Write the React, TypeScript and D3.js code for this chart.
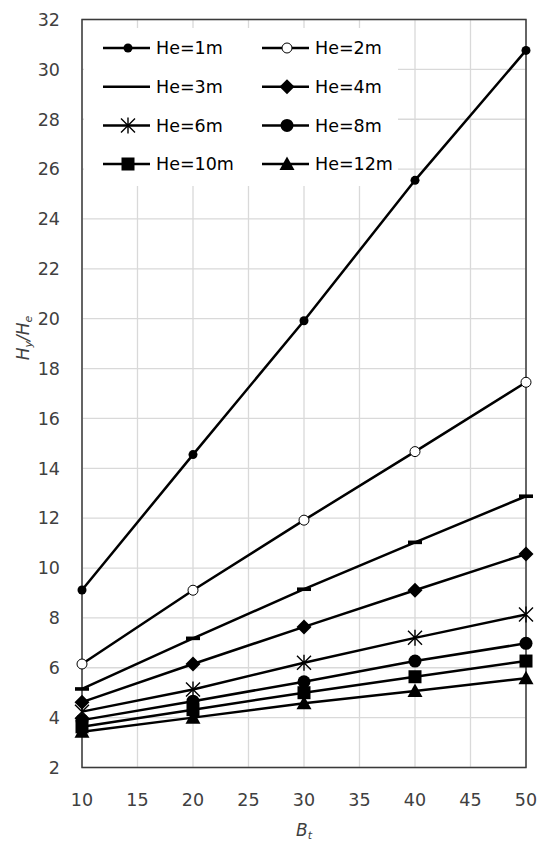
import React from "react";
import * as d3 from "d3";

const xValues = [10, 20, 30, 40, 50];
const seriesNames = ["He=1m", "He=2m", "He=3m", "He=4m", "He=6m", "He=8m", "He=10m", "He=12m"];
const he1 = [9.12, 14.55, 19.92, 25.55, 30.76];
const he2 = [6.15, 9.11, 11.92, 14.67, 17.45];
const he3 = [5.15, 7.18, 9.15, 11.03, 12.88];
const he4 = [4.62, 6.15, 7.64, 9.11, 10.56];
const he6 = [4.24, 5.13, 6.2, 7.2, 8.14];
const he8 = [3.9, 4.66, 5.44, 6.27, 6.98];
const he10 = [3.63, 4.32, 5.0, 5.64, 6.27];
const he12 = [3.43, 4.0, 4.58, 5.07, 5.58];
const seriesValues = [he1, he2, he3, he4, he6, he8, he10, he12];
const markers = ["smallDot", "openCircle", "dash", "diamond", "star", "bigDot", "square", "triangle"];
const xTicks = [10, 15, 20, 25, 30, 35, 40, 45, 50];
const yTicks = [2, 4, 6, 8, 10, 12, 14, 16, 18, 20, 22, 24, 26, 28, 30, 32];

const W = 538;
const H = 843;
const left = 82;
const right = 526;
const top = 19.5;
const bottom = 767.5;
const FONT = "DejaVu Sans, sans-serif";

const x = d3.scaleLinear().domain([10, 50]).range([left, right]);
const y = d3.scaleLinear().domain([2, 32]).range([bottom, top]);

function Marker({ kind, cx, cy }: { kind: string; cx: number; cy: number }) {
  switch (kind) {
    case "smallDot":
      return <circle cx={cx} cy={cy} r={4.5} fill="#000" />;
    case "openCircle":
      return <circle cx={cx} cy={cy} r={5} fill="#fff" stroke="#000" strokeWidth={1} />;
    case "dash":
      return <rect x={cx - 7} y={cy - 1.8} width={14} height={3.6} fill="#000" />;
    case "diamond":
      return <path d={`M${cx},${cy - 7.5}L${cx + 7.5},${cy}L${cx},${cy + 7.5}L${cx - 7.5},${cy}Z`} fill="#000" />;
    case "star": {
      const s = 7;
      return (
        <path
          d={`M${cx - s},${cy - s}L${cx + s},${cy + s}M${cx - s},${cy + s}L${cx + s},${cy - s}M${cx},${cy - s - 1}L${cx},${cy + s + 1}`}
          stroke="#000"
          strokeWidth={1.4}
          fill="none"
        />
      );
    }
    case "bigDot":
      return <circle cx={cx} cy={cy} r={6.5} fill="#000" />;
    case "square":
      return <rect x={cx - 6.5} y={cy - 6.5} width={13} height={13} fill="#000" />;
    case "triangle":
      return <path d={`M${cx},${cy - 7.5}L${cx + 7.5},${cy + 6}L${cx - 7.5},${cy + 6}Z`} fill="#000" />;
    default:
      return null;
  }
}

export default function App() {
  const line = d3
    .line<number>()
    .x((_, i) => x(xValues[i]))
    .y((d) => y(d));

  const legendRows = [48, 86.7, 125.4, 164];
  const legendCols = [103, 262];

  return (
    <svg width={W} height={H} style={{ position: "absolute", left: 0, top: 0, background: "#fff" }}>
      <rect x={0} y={0} width={W} height={H} fill="#fff" />
      {xTicks.map((t) => (
        <line key={"gx" + t} x1={x(t)} x2={x(t)} y1={top} y2={bottom} stroke="#d9d9d9" strokeWidth={1.3} />
      ))}
      {yTicks.map((t) => (
        <line key={"gy" + t} x1={left} x2={right} y1={y(t)} y2={y(t)} stroke="#d9d9d9" strokeWidth={1.3} />
      ))}
      <rect x={84} y={28} width={314} height={158} fill="#fff" />
      <rect x={left} y={top} width={right - left} height={bottom - top} fill="none" stroke="#3a3a3a" strokeWidth={1.5} />
      {seriesValues.map((vals, si) => (
        <g key={"s" + si}>
          <path d={line(vals) || ""} fill="none" stroke="#000" strokeWidth={2.5} />
          {vals.map((v, i) => (
            <Marker key={i} kind={markers[si]} cx={x(xValues[i])} cy={y(v)} />
          ))}
        </g>
      ))}
      {yTicks.map((t) => (
        <text key={"ty" + t} x={60} y={y(t)} dy="0.36em" textAnchor="end" fontFamily={FONT} fontSize={17.5} fill="#404040">
          {t}
        </text>
      ))}
      {xTicks.map((t) => (
        <text key={"tx" + t} x={x(t)} y={806} textAnchor="middle" fontFamily={FONT} fontSize={17.5} fill="#404040">
          {t}
        </text>
      ))}
      <text x={304} y={836} textAnchor="middle" fontFamily={FONT} fontSize={17} fill="#404040" fontStyle="italic">
        B<tspan fontSize={11} dy={3}>t</tspan>
      </text>
      <text
        transform="translate(29,338) rotate(-90)"
        textAnchor="middle"
        fontFamily={FONT}
        fontSize={17}
        fill="#404040"
        fontStyle="italic"
      >
        H<tspan fontSize={11} dy={3}>y</tspan>
        <tspan dy={-3}>/H</tspan>
        <tspan fontSize={11} dy={3}>e</tspan>
      </text>
      {seriesNames.map((name, i) => {
        const col = i % 2;
        const row = Math.floor(i / 2);
        const lx = legendCols[col];
        const ly = legendRows[row];
        return (
          <g key={"l" + i}>
            <line x1={lx} x2={lx + 47} y1={ly} y2={ly} stroke="#000" strokeWidth={2.5} />
            {markers[i] !== "dash" && <Marker kind={markers[i]} cx={lx + 25} cy={ly} />}
            <text x={lx + 53} y={ly} dy="0.36em" fontFamily={FONT} fontSize={17.5} fill="#000">
              {name}
            </text>
          </g>
        );
      })}
    </svg>
  );
}
